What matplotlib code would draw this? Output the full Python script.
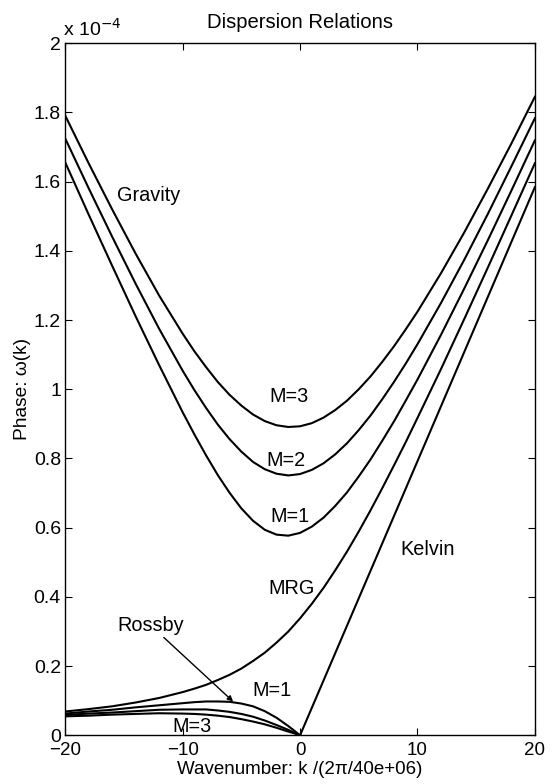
import matplotlib.pyplot as plt

plt.rcParams["font.family"] = ["Liberation Sans", "DejaVu Sans"]

# wavenumber samples, k / (2 pi / 40e6)
k_grav = [-20, -18, -16, -14, -12, -10, -9, -8, -7, -6, -5, -4, -3, -2, -1, 0,
          1, 2, 3, 4, 5, 6, 7, 8, 9, 10, 12, 14, 16, 18, 20]
# gravity waves, phase in units of 1e-4 s^-1
grav_m1 = [1.656, 1.505, 1.357, 1.211, 1.070, 0.934, 0.870, 0.809, 0.752, 0.701,
           0.656, 0.620, 0.594, 0.580, 0.577, 0.585, 0.603, 0.629, 0.663, 0.702,
           0.748, 0.797, 0.851, 0.907, 0.967, 1.028, 1.157, 1.292, 1.431, 1.574, 1.719]
grav_m2 = [1.725, 1.581, 1.441, 1.305, 1.175, 1.054, 0.998, 0.946, 0.898, 0.856,
           0.820, 0.790, 0.769, 0.756, 0.751, 0.755, 0.767, 0.786, 0.812, 0.844,
           0.882, 0.924, 0.971, 1.021, 1.074, 1.130, 1.249, 1.375, 1.507, 1.644, 1.783]
grav_m3 = [1.791, 1.653, 1.520, 1.392, 1.271, 1.161, 1.110, 1.064, 1.021, 0.984,
           0.953, 0.927, 0.908, 0.896, 0.891, 0.893, 0.902, 0.918, 0.940, 0.967,
           1.000, 1.037, 1.079, 1.124, 1.173, 1.224, 1.335, 1.454, 1.580, 1.710, 1.845]

# mixed Rossby-gravity
k_mrg = [-20, -18, -16, -14, -12, -10, -9, -8, -7, -6, -5, -4, -3, -2, -1, 0,
         1, 2, 3, 4, 5, 6, 7, 8, 9, 10, 12, 14, 16, 18, 20]
mrg = [0.069, 0.076, 0.084, 0.095, 0.108, 0.125, 0.135, 0.146, 0.160, 0.175,
       0.193, 0.215, 0.239, 0.268, 0.300, 0.338, 0.380, 0.426, 0.477, 0.531,
       0.589, 0.650, 0.714, 0.780, 0.847, 0.917, 1.058, 1.204, 1.352, 1.502, 1.653]

# Kelvin
k_kelvin = [0, 20]
kelvin = [0.0, 1.584]

# Rossby waves
k_ross = [-20, -18, -16, -14, -12, -10, -9, -8, -7, -6, -5, -4, -3, -2, -1, -0.5, 0]
ross_m1 = [0.063, 0.069, 0.074, 0.081, 0.087, 0.093, 0.096, 0.098, 0.098, 0.097,
           0.092, 0.084, 0.070, 0.051, 0.027, 0.014, 0.0]
ross_m2 = [0.059, 0.063, 0.066, 0.070, 0.074, 0.075, 0.075, 0.075, 0.072, 0.068,
           0.062, 0.054, 0.043, 0.030, 0.016, 0.008, 0.0]
ross_m3 = [0.055, 0.057, 0.060, 0.062, 0.064, 0.063, 0.062, 0.060, 0.057, 0.053,
           0.047, 0.040, 0.032, 0.022, 0.011, 0.006, 0.0]

x_ticks = [-20, -10, 0, 10, 20]
x_ticklabels = ["\u221220", "\u221210", "0", "10", "20"]
y_ticks = [0, 0.2, 0.4, 0.6, 0.8, 1.0, 1.2, 1.4, 1.6, 1.8, 2.0]


def main():
    fig = plt.figure(figsize=(5.52, 7.84), dpi=100)
    ax = fig.add_axes([0.118, 0.062, 0.851, 0.883])

    lw = 1.5
    for y in (grav_m1, grav_m2, grav_m3):
        ax.plot(k_grav, y, color="k", lw=lw)
    ax.plot(k_mrg, mrg, color="k", lw=lw)
    ax.plot(k_kelvin, kelvin, color="k", lw=lw)
    for y in (ross_m1, ross_m2, ross_m3):
        ax.plot(k_ross, y, color="k", lw=lw)

    ax.set_xlim(-20, 20)
    ax.set_ylim(0, 2)
    ax.set_xticks(x_ticks)
    ax.set_xticklabels(x_ticklabels)
    ax.set_yticks(y_ticks)
    ax.set_yticklabels([f"{v:g}" for v in y_ticks])
    ax.tick_params(direction="in", length=5, width=0.8, top=True, right=True,
                   labelsize=14)
    ax.tick_params(axis="x", pad=5, labelsize=13.5)
    ax.tick_params(axis="y", pad=3)
    for s in ax.spines.values():
        s.set_linewidth(1.0)

    ax.set_title("Dispersion Relations", fontsize=14.6, pad=11)
    ax.set_xlabel("Wavenumber: k /(2\u03c0/40e+06)", fontsize=13.5, labelpad=1)
    ax.set_ylabel("Phase: \u03c9(k)", fontsize=13.8, labelpad=2)
    ax.text(-0.005, 1.005, "x 10$^{-4}$", transform=ax.transAxes, fontsize=14,
            ha="left", va="bottom")

    # curve labels
    fs = 14.3
    ax.text(-15.6, 1.56, "Gravity", fontsize=fs, ha="left", va="center")
    ax.text(-0.9, 0.98, "M=3", fontsize=fs, ha="center", va="center")
    ax.text(-1.2, 0.793, "M=2", fontsize=fs, ha="center", va="center")
    ax.text(-0.85, 0.631, "M=1", fontsize=fs, ha="center", va="center")
    ax.text(-0.7, 0.424, "MRG", fontsize=fs, ha="center", va="center")
    ax.text(10.9, 0.536, "Kelvin", fontsize=fs, ha="center", va="center")
    ax.text(-12.7, 0.317, "Rossby", fontsize=fs, ha="center", va="center")
    ax.text(-2.4, 0.13, "M=1", fontsize=fs, ha="center", va="center")
    ax.text(-9.2, 0.026, "M=3", fontsize=fs, ha="center", va="center")
    ax.annotate("", xy=(-5.7, 0.098), xytext=(-11.6, 0.283),
                arrowprops=dict(arrowstyle="-|>", color="k", lw=1.0,
                                mutation_scale=8, shrinkA=0, shrinkB=0))

    fig.savefig("out.png", dpi=100)


if __name__ == "__main__":
    main()
